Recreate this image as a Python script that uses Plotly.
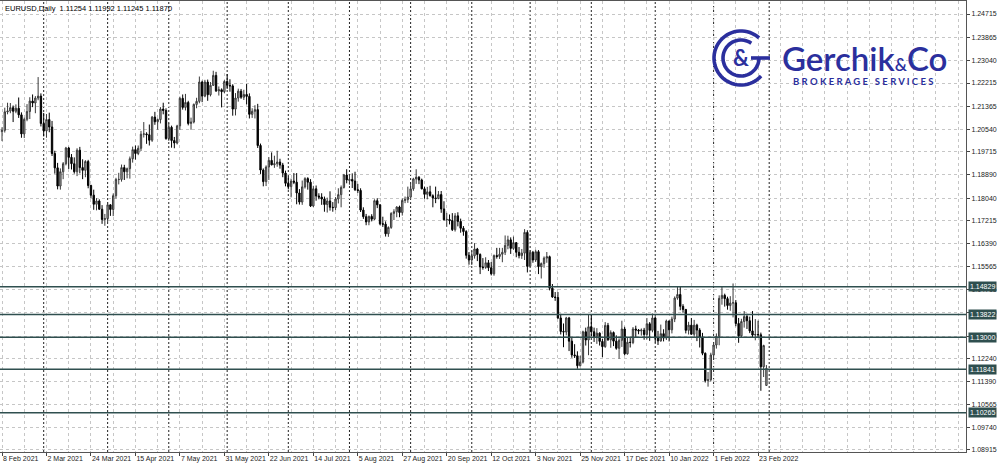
import math
import pandas as pd
import plotly.graph_objects as go

# ---------------- data (EURUSD daily) ----------------
FIRST_DAY = "2021-02-08"

OPEN = [
    # Feb 2021
    1.2045, 1.2050, 1.2117, 1.2120, 1.2132, 1.2119, 1.2130, 1.2106, 1.2037, 1.2090, 1.2118, 1.2156, 1.2149, 1.2167, 1.2174,
    # Mar 2021
    1.2075, 1.2048, 1.2089, 1.2062, 1.1966, 1.1914, 1.1848, 1.1900, 1.1929, 1.1986, 1.1952, 1.1929, 1.1900, 1.1978, 1.1915,
    1.1905, 1.1937, 1.1850, 1.1815, 1.1782, 1.1794, 1.1764, 1.1727,
    # Apr 2021
    1.1730, 1.1780, 1.1763, 1.1813, 1.1872, 1.1872, 1.1915, 1.1900, 1.1911, 1.1947, 1.1980, 1.1966, 1.1985, 1.2036, 1.2037,
    1.2034, 1.2014, 1.2098, 1.2081, 1.2089, 1.2127, 1.2122,
    # May 2021
    1.2020, 1.2061, 1.2013, 1.2004, 1.2066, 1.2166, 1.2133, 1.2151, 1.2075, 1.2080, 1.2144, 1.2155, 1.2225, 1.2174, 1.2225,
    1.2179, 1.2213, 1.2249, 1.2193, 1.2197, 1.2190,
    # Jun 2021
    1.2227, 1.2213, 1.2211, 1.2127, 1.2167, 1.2192, 1.2170, 1.2180, 1.2173, 1.2108, 1.2119, 1.2125, 1.1995, 1.1906, 1.1864,
    1.1917, 1.1941, 1.1925, 1.1929, 1.1935, 1.1924, 1.1895,
    # Jul 2021
    1.1858, 1.1846, 1.1866, 1.1862, 1.1823, 1.1790, 1.1845, 1.1875, 1.1862, 1.1776, 1.1838, 1.1812, 1.1808, 1.1801, 1.1781,
    1.1794, 1.1771, 1.1770, 1.1801, 1.1817, 1.1843, 1.1888,
    # Aug 2021
    1.1868, 1.1872, 1.1866, 1.1835, 1.1832, 1.1761, 1.1737, 1.1718, 1.1738, 1.1728, 1.1795, 1.1780, 1.1711, 1.1710, 1.1675,
    1.1698, 1.1749, 1.1755, 1.1772, 1.1752, 1.1796, 1.1799,
    # Sep 2021
    1.1808, 1.1838, 1.1874, 1.1880, 1.1870, 1.1838, 1.1818, 1.1827, 1.1813, 1.1805, 1.1803, 1.1817, 1.1765, 1.1726, 1.1727,
    1.1723, 1.1690, 1.1740, 1.1720, 1.1695, 1.1683, 1.1597,
    # Oct 2021
    1.1580, 1.1595, 1.1620, 1.1600, 1.1555, 1.1553, 1.1570, 1.1552, 1.1530, 1.1596, 1.1593, 1.1601, 1.1608, 1.1633, 1.1653,
    1.1622, 1.1643, 1.1608, 1.1596, 1.1605, 1.1680,
    # Nov 2021
    1.1557, 1.1608, 1.1580, 1.1610, 1.1556, 1.1567, 1.1587, 1.1592, 1.1478, 1.1446, 1.1444, 1.1370, 1.1321, 1.1319, 1.1370,
    1.1286, 1.1236, 1.1233, 1.1197, 1.1210, 1.1320, 1.1290,
    # Dec 2021
    1.1338, 1.1320, 1.1303, 1.1315, 1.1285, 1.1266, 1.1343, 1.1291, 1.1317, 1.1286, 1.1260, 1.1289, 1.1330, 1.1240, 1.1282,
    1.1281, 1.1330, 1.1326, 1.1323, 1.1326, 1.1310, 1.1349, 1.1325,
    # Jan 2022
    1.1370, 1.1297, 1.1287, 1.1313, 1.1297, 1.1359, 1.1327, 1.1366, 1.1442, 1.1455, 1.1412, 1.1401, 1.1325, 1.1344, 1.1311,
    1.1344, 1.1326, 1.1301, 1.1242, 1.1143, 1.1146,
    # Feb 2022
    1.1236, 1.1272, 1.1303, 1.1441, 1.1452, 1.1440, 1.1415, 1.1424, 1.1425, 1.1350, 1.1305, 1.1357, 1.1375, 1.1360, 1.1323,
    1.1308, 1.1310, 1.1309, 1.1193, 1.11254,
]

HIGH = [
    1.2061, 1.2132, 1.2150, 1.2149, 1.2140, 1.2144, 1.2169, 1.2115, 1.2096, 1.2145, 1.2170, 1.2180, 1.2174, 1.2243, 1.2184,
    1.2113, 1.2109, 1.2114, 1.2084, 1.1976, 1.1932, 1.1912, 1.1935, 1.1990, 1.1990, 1.1964, 1.1952, 1.1985, 1.1990, 1.1945,
    1.1942, 1.1943, 1.1853, 1.1835, 1.1804, 1.1800, 1.1779, 1.1747,
    1.1790, 1.1782, 1.1821, 1.1878, 1.1896, 1.1926, 1.1925, 1.1915, 1.1955, 1.1991, 1.1995, 1.1995, 1.2048, 1.2080, 1.2043,
    1.2071, 1.2102, 1.2117, 1.2093, 1.2134, 1.2150, 1.2130,
    1.2076, 1.2067, 1.2026, 1.2070, 1.2172, 1.2180, 1.2182, 1.2157, 1.2096, 1.2147, 1.2168, 1.2245, 1.2230, 1.2233, 1.2234,
    1.2225, 1.2266, 1.2262, 1.2209, 1.2202, 1.2232,
    1.2254, 1.2235, 1.2217, 1.2185, 1.2201, 1.2200, 1.2197, 1.2218, 1.2184, 1.2130, 1.2141, 1.2146, 1.2002, 1.1912, 1.1923,
    1.1953, 1.1970, 1.1958, 1.1976, 1.1947, 1.1932, 1.1904,
    1.1885, 1.1875, 1.1895, 1.1895, 1.1837, 1.1868, 1.1880, 1.1880, 1.1873, 1.1849, 1.1850, 1.1822, 1.1822, 1.1810, 1.1806,
    1.1829, 1.1790, 1.1808, 1.1840, 1.1850, 1.1892, 1.1909,
    1.1892, 1.1894, 1.1900, 1.1856, 1.1840, 1.1771, 1.1747, 1.1741, 1.1746, 1.1800, 1.1804, 1.1782, 1.1737, 1.1720, 1.1702,
    1.1753, 1.1764, 1.1775, 1.1777, 1.1803, 1.1810, 1.1846,
    1.1857, 1.1878, 1.1909, 1.1884, 1.1875, 1.1846, 1.1845, 1.1849, 1.1818, 1.1846, 1.1830, 1.1830, 1.1793, 1.1751, 1.1745,
    1.1750, 1.1750, 1.1753, 1.1730, 1.1703, 1.1688, 1.1609,
    1.1614, 1.1641, 1.1624, 1.1604, 1.1587, 1.1590, 1.1580, 1.1573, 1.1600, 1.1624, 1.1624, 1.1624, 1.1669, 1.1668, 1.1662,
    1.1665, 1.1645, 1.1627, 1.1620, 1.1692, 1.1688,
    1.1616, 1.1613, 1.1617, 1.1616, 1.1571, 1.1593, 1.1609, 1.1596, 1.1493, 1.1464, 1.1464, 1.1385, 1.1350, 1.1374, 1.1374,
    1.1301, 1.1275, 1.1249, 1.1233, 1.1324, 1.1335, 1.1383,
    1.1383, 1.1335, 1.1333, 1.1318, 1.1294, 1.1355, 1.1352, 1.1325, 1.1321, 1.1307, 1.1296, 1.1360, 1.1338, 1.1300, 1.1300,
    1.1337, 1.1342, 1.1330, 1.1332, 1.1334, 1.1370, 1.1355, 1.1386,
    1.1376, 1.1323, 1.1346, 1.1329, 1.1364, 1.1361, 1.1375, 1.1448, 1.1482, 1.1483, 1.1420, 1.1402, 1.1356, 1.1370, 1.1363,
    1.1349, 1.1333, 1.1316, 1.1245, 1.1174, 1.1244,
    1.1283, 1.1314, 1.1452, 1.1483, 1.1458, 1.1447, 1.1449, 1.1495, 1.1435, 1.1370, 1.1367, 1.1395, 1.1385, 1.1375, 1.1395,
    1.1366, 1.1360, 1.1317, 1.1273, 1.11992,
]

LOW = [
    1.2011, 1.2042, 1.2108, 1.2112, 1.2080, 1.2112, 1.2095, 1.2023, 1.2022, 1.2083, 1.2091, 1.2134, 1.2112, 1.2159, 1.2064,
    1.2028, 1.2023, 1.2043, 1.1957, 1.1893, 1.1836, 1.1835, 1.1873, 1.1923, 1.1910, 1.1908, 1.1893, 1.1884, 1.1894, 1.1873,
    1.1880, 1.1840, 1.1805, 1.1762, 1.1760, 1.1762, 1.1711, 1.1704,
    1.1717, 1.1740, 1.1739, 1.1803, 1.1854, 1.1864, 1.1870, 1.1876, 1.1875, 1.1933, 1.1944, 1.1960, 1.1975, 1.2024, 1.2001,
    1.1995, 1.2008, 1.2070, 1.2052, 1.2075, 1.2108, 1.2016,
    1.2012, 1.1987, 1.1985, 1.1999, 1.2052, 1.2125, 1.2122, 1.2068, 1.2052, 1.2075, 1.2130, 1.2148, 1.2152, 1.2170, 1.2157,
    1.2173, 1.2211, 1.2189, 1.2176, 1.2133, 1.2185,
    1.2200, 1.2190, 1.2103, 1.2104, 1.2154, 1.2164, 1.2160, 1.2144, 1.2093, 1.2095, 1.2093, 1.1986, 1.1892, 1.1847, 1.1848,
    1.1870, 1.1923, 1.1914, 1.1918, 1.1911, 1.1880, 1.1847,
    1.1836, 1.1807, 1.1855, 1.1782, 1.1781, 1.1780, 1.1839, 1.1835, 1.1772, 1.1772, 1.1795, 1.1800, 1.1780, 1.1755, 1.1752,
    1.1759, 1.1755, 1.1760, 1.1785, 1.1771, 1.1839, 1.1858,
    1.1853, 1.1841, 1.1830, 1.1823, 1.1754, 1.1729, 1.1706, 1.1706, 1.1720, 1.1725, 1.1768, 1.1706, 1.1700, 1.1665, 1.1664,
    1.1693, 1.1725, 1.1735, 1.1735, 1.1741, 1.1786, 1.1787,
    1.1802, 1.1831, 1.1856, 1.1855, 1.1836, 1.1802, 1.1800, 1.1810, 1.1771, 1.1786, 1.1800, 1.1751, 1.1723, 1.1700, 1.1709,
    1.1685, 1.1683, 1.1702, 1.1679, 1.1668, 1.1585, 1.1563,
    1.1562, 1.1585, 1.1576, 1.1529, 1.1545, 1.1548, 1.1540, 1.1524, 1.1523, 1.1585, 1.1584, 1.1572, 1.1598, 1.1619, 1.1602,
    1.1617, 1.1590, 1.1586, 1.1584, 1.1580, 1.1535,
    1.1555, 1.1570, 1.1573, 1.1529, 1.1513, 1.1552, 1.1570, 1.1470, 1.1443, 1.1432, 1.1366, 1.1310, 1.1264, 1.1307, 1.1250,
    1.1226, 1.1225, 1.1186, 1.1194, 1.1205, 1.1270, 1.1235,
    1.1303, 1.1283, 1.1276, 1.1270, 1.1228, 1.1262, 1.1287, 1.1262, 1.1268, 1.1255, 1.1222, 1.1265, 1.1235, 1.1237, 1.1263,
    1.1275, 1.1300, 1.1311, 1.1306, 1.1291, 1.1292, 1.1287, 1.1318,
    1.1281, 1.1272, 1.1284, 1.1285, 1.1290, 1.1285, 1.1314, 1.1355, 1.1436, 1.1398, 1.1389, 1.1314, 1.1310, 1.1310, 1.1301,
    1.1286, 1.1263, 1.1235, 1.1136, 1.1121, 1.1140,
    1.1220, 1.1259, 1.1271, 1.1418, 1.1411, 1.1400, 1.1396, 1.1372, 1.1340, 1.1280, 1.1299, 1.1335, 1.1330, 1.1315, 1.1300,
    1.1289, 1.1301, 1.1106, 1.1156, 1.11245,
]

CLOSE = [
    1.2050, 1.2117, 1.2120, 1.2132, 1.2119, 1.2130, 1.2106, 1.2037, 1.2090, 1.2118, 1.2156, 1.2149, 1.2167, 1.2174, 1.2075,
    1.2048, 1.2089, 1.2062, 1.1966, 1.1914, 1.1848, 1.1900, 1.1929, 1.1986, 1.1952, 1.1929, 1.1900, 1.1978, 1.1915, 1.1905,
    1.1937, 1.1850, 1.1815, 1.1782, 1.1794, 1.1764, 1.1727, 1.1730,
    1.1780, 1.1763, 1.1813, 1.1872, 1.1872, 1.1915, 1.1900, 1.1911, 1.1947, 1.1980, 1.1966, 1.1985, 1.2036, 1.2037, 1.2034,
    1.2014, 1.2098, 1.2081, 1.2089, 1.2127, 1.2122, 1.2020,
    1.2061, 1.2013, 1.2004, 1.2066, 1.2166, 1.2133, 1.2151, 1.2075, 1.2080, 1.2144, 1.2155, 1.2225, 1.2174, 1.2225, 1.2179,
    1.2213, 1.2249, 1.2193, 1.2197, 1.2190, 1.2227,
    1.2213, 1.2211, 1.2127, 1.2167, 1.2192, 1.2170, 1.2180, 1.2173, 1.2108, 1.2119, 1.2125, 1.1995, 1.1906, 1.1864, 1.1917,
    1.1941, 1.1925, 1.1929, 1.1935, 1.1924, 1.1895, 1.1858,
    1.1846, 1.1866, 1.1862, 1.1823, 1.1790, 1.1845, 1.1875, 1.1862, 1.1776, 1.1838, 1.1812, 1.1808, 1.1801, 1.1781, 1.1794,
    1.1771, 1.1770, 1.1801, 1.1817, 1.1843, 1.1888, 1.1870,
    1.1872, 1.1866, 1.1835, 1.1832, 1.1761, 1.1737, 1.1718, 1.1738, 1.1728, 1.1795, 1.1780, 1.1711, 1.1710, 1.1675, 1.1698,
    1.1749, 1.1755, 1.1772, 1.1752, 1.1796, 1.1799, 1.1808,
    1.1838, 1.1874, 1.1880, 1.1870, 1.1838, 1.1818, 1.1827, 1.1813, 1.1805, 1.1803, 1.1817, 1.1765, 1.1726, 1.1727, 1.1723,
    1.1690, 1.1740, 1.1720, 1.1695, 1.1683, 1.1597, 1.1580,
    1.1595, 1.1620, 1.1600, 1.1555, 1.1553, 1.1570, 1.1552, 1.1530, 1.1596, 1.1593, 1.1601, 1.1608, 1.1633, 1.1653, 1.1622,
    1.1643, 1.1608, 1.1596, 1.1605, 1.1680, 1.1557,
    1.1608, 1.1580, 1.1610, 1.1556, 1.1567, 1.1587, 1.1592, 1.1478, 1.1446, 1.1444, 1.1370, 1.1321, 1.1319, 1.1370, 1.1286,
    1.1236, 1.1233, 1.1197, 1.1210, 1.1320, 1.1290, 1.1338,
    1.1320, 1.1303, 1.1315, 1.1285, 1.1266, 1.1343, 1.1291, 1.1317, 1.1286, 1.1260, 1.1289, 1.1330, 1.1240, 1.1282, 1.1281,
    1.1330, 1.1326, 1.1323, 1.1326, 1.1310, 1.1349, 1.1325, 1.1370,
    1.1297, 1.1287, 1.1313, 1.1297, 1.1359, 1.1327, 1.1366, 1.1442, 1.1455, 1.1412, 1.1401, 1.1325, 1.1344, 1.1311, 1.1344,
    1.1326, 1.1301, 1.1242, 1.1143, 1.1146, 1.1236,
    1.1272, 1.1303, 1.1441, 1.1452, 1.1440, 1.1415, 1.1424, 1.1425, 1.1350, 1.1305, 1.1357, 1.1375, 1.1360, 1.1323, 1.1308,
    1.1310, 1.1309, 1.1193, 1.1270, 1.11870,
]

TICK_LABELS = [
    "8 Feb 2021", "2 Mar 2021", "24 Mar 2021", "15 Apr 2021", "7 May 2021", "31 May 2021",
    "22 Jun 2021", "14 Jul 2021", "5 Aug 2021", "27 Aug 2021", "20 Sep 2021", "12 Oct 2021",
    "3 Nov 2021", "25 Nov 2021", "17 Dec 2021", "10 Jan 2022", "1 Feb 2022", "23 Feb 2022",
]

PRICE_TICKS = [
    1.24715, 1.23865, 1.23040, 1.22215, 1.21365, 1.20540, 1.19715, 1.18890, 1.18040, 1.17215,
    1.16390, 1.15565, 1.14715, 1.13890, 1.13040, 1.12240, 1.11390, 1.10565, 1.09740, 1.08915,
]

LEVELS = [1.14829, 1.13822, 1.13000, 1.11841, 1.10265]

HEADER = "EURUSD,Daily  1.11254 1.11992 1.11245 1.11870"

# ---------------- geometry ----------------
W, H = 1000, 466
ML, MR, MT, MB = 0, 34, 1, 14
PW, PH = W - ML - MR, H - MT - MB

n = len(CLOSE)
bars = list(range(n))
dates = pd.bdate_range(FIRST_DAY, periods=n + 1)   # one extra session for the next period separator
tick_dates = pd.to_datetime(TICK_LABELS, format="%d %b %Y")
tickvals = [int(dates.get_loc(d)) for d in tick_dates]
month_starts = [i for i in range(1, len(dates)) if dates[i].month != dates[i - 1].month]

FONT = "Liberation Sans, Arial, sans-serif"
LEVEL_COLOR = "#2f4f4f"
BLUE = "#2b2f9d"

fig = go.Figure()
fig.add_trace(go.Candlestick(
    x=bars, open=OPEN, high=HIGH, low=LOW, close=CLOSE,
    increasing=dict(line=dict(color="#3a3a3a", width=1), fillcolor="#b4b4b4"),
    decreasing=dict(line=dict(color="#000000", width=1), fillcolor="#000000"),
    whiskerwidth=0, hoverinfo="skip", showlegend=False,
))

shapes = []
for m in month_starts:
    shapes.append(dict(type="line", xref="x", yref="paper", x0=m, x1=m, y0=0, y1=1,
                       line=dict(color="#222222", width=1, dash="2px,2px"), layer="below"))
for lv in LEVELS:
    shapes.append(dict(type="line", xref="paper", yref="y", x0=0, x1=1, y0=lv, y1=lv,
                       line=dict(color=LEVEL_COLOR, width=1.5), layer="above"))


def ppx(x):
    return (x - ML) / PW


def ppy(y):
    return 1 - (y - MT) / PH


# logo symbol (decorative arcs)
def arc(r, a0, a1, steps=48):
    pts = []
    for k in range(steps + 1):
        a = math.radians(a0 + (a1 - a0) * k / steps)
        pts.append((r * math.cos(a), r * math.sin(a)))
    return "M " + " L ".join(f"{x:.2f},{y:.2f}" for x, y in pts)


CX, CY = 741, 58
for r, a0, a1 in [(27, 48, 318), (18, 55, 360)]:
    shapes.append(dict(type="path", xref="paper", yref="paper", xsizemode="pixel", ysizemode="pixel",
                       xanchor=ppx(CX), yanchor=ppy(CY), path=arc(r, a0, a1),
                       line=dict(color=BLUE, width=3.6), layer="above"))
shapes.append(dict(type="path", xref="paper", yref="paper", xsizemode="pixel", ysizemode="pixel",
                   xanchor=ppx(CX), yanchor=ppy(CY), path="M 10,0 L 29,0",
                   line=dict(color=BLUE, width=3.6), layer="above"))

annotations = []
for lv in LEVELS:
    annotations.append(dict(x=1, xref="paper", y=lv, yref="y", xanchor="left", yanchor="middle",
                            xshift=2, text=f"{lv:.5f}", showarrow=False, bgcolor=LEVEL_COLOR,
                            borderpad=1, font=dict(family=FONT, size=7, color="#ffffff")))
annotations.append(dict(x=0, y=1, xref="paper", yref="paper", xanchor="left", yanchor="top",
                        xshift=3, yshift=-1, text=HEADER, showarrow=False,
                        font=dict(family=FONT, size=7.5, color="#000000")))
annotations.append(dict(x=ppx(CX), y=ppy(CY), xref="paper", yref="paper", xanchor="center",
                        yanchor="middle", text="<b>&</b>", showarrow=False,
                        font=dict(family="Lato, sans-serif", size=22, color=BLUE)))
annotations.append(dict(x=ppx(864), y=ppy(58), xref="paper", yref="paper", xanchor="center",
                        yanchor="middle", showarrow=False,
                        text="Gerchik<span style='font-size:17px'>&</span>Co",
                        font=dict(family="Lato, sans-serif", size=33, color=BLUE, weight=600)))
annotations.append(dict(x=ppx(863), y=ppy(82), xref="paper", yref="paper", xanchor="center",
                        yanchor="middle", showarrow=False,
                        text="B R O K E R A G E   S E R V I C E S",
                        font=dict(family="Lato, sans-serif", size=9.5, color=BLUE, weight=700)))

fig.update_layout(
    width=W, height=H,
    margin=dict(l=ML, r=MR, t=MT, b=MB),
    paper_bgcolor="#ffffff", plot_bgcolor="#ffffff",
    showlegend=False,
    shapes=shapes, annotations=annotations,
    xaxis=dict(
        range=[-0.72, 346.8], rangeslider=dict(visible=False),
        tickmode="array", tickvals=tickvals, ticktext=TICK_LABELS, tickangle=0,
        ticks="outside", ticklen=3, tickcolor="#444444",
        ticklabelposition="outside right",
        tickfont=dict(family=FONT, size=7, color="#222222"),
        showgrid=True, gridcolor="#c6c6c6", griddash="dot", gridwidth=1,
        minor=dict(dtick=8, tick0=0, showgrid=True, gridcolor="#c6c6c6", griddash="dot", ticks=""),
        showline=True, linecolor="#555555", linewidth=1, mirror=True, zeroline=False,
        fixedrange=True, automargin=False,
    ),
    yaxis=dict(
        side="right", range=[1.08842, 1.25187],
        tickmode="array", tickvals=PRICE_TICKS, ticktext=[f"{v:.5f}" for v in PRICE_TICKS],
        ticks="outside", ticklen=3, tickcolor="#444444",
        tickfont=dict(family=FONT, size=7, color="#222222"),
        showgrid=True, gridcolor="#c6c6c6", griddash="dot", gridwidth=1,
        showline=True, linecolor="#555555", linewidth=1, mirror=True, zeroline=False,
        fixedrange=True, automargin=False,
    ),
)

fig.write_html("out.html", config={"displayModeBar": False},
               post_script="document.body.style.margin='0';document.body.style.padding='0';")
